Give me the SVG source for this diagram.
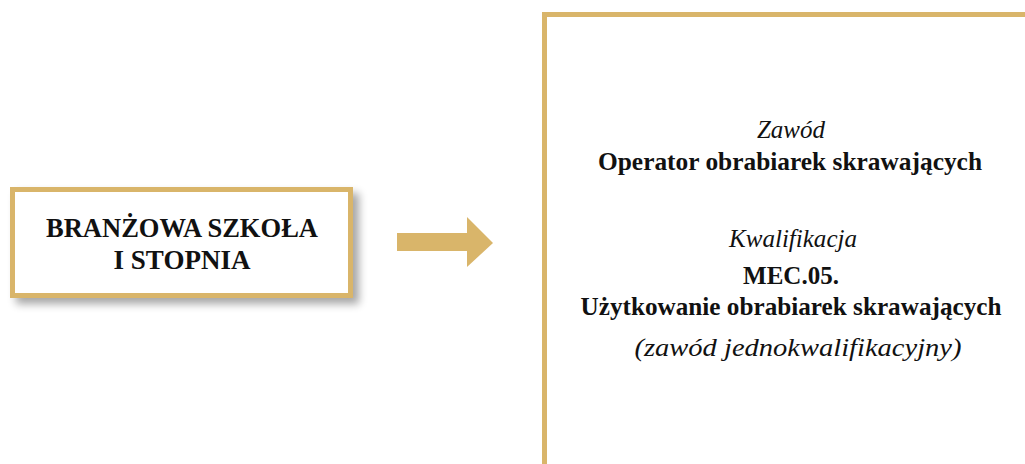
<svg xmlns="http://www.w3.org/2000/svg" width="1025" height="464" viewBox="0 0 1025 464">
<style>
.t{font-family:"Liberation Serif","Times New Roman",serif;fill:#111;text-anchor:middle}
.b{font-weight:bold}
.i{font-style:italic}
.gold{fill:#D9B56A}
</style>
<defs>
<filter id="sh" x="-10%" y="-20%" width="130%" height="160%">
<feGaussianBlur in="SourceAlpha" stdDeviation="4"/>
<feOffset dx="6" dy="6"/>
<feComponentTransfer><feFuncA type="linear" slope="0.35"/></feComponentTransfer>
<feMerge><feMergeNode/><feMergeNode in="SourceGraphic"/></feMerge>
</filter>
</defs>
<rect width="1025" height="464" fill="#fff"/>
<g id="node-school">
<rect x="12.5" y="189.5" width="338" height="106" fill="#fff" stroke="#D9B56A" stroke-width="5" filter="url(#sh)"/>
<text class="t b" x="182" y="237" font-size="27" textLength="272" lengthAdjust="spacingAndGlyphs">BRANŻOWA SZKOŁA</text>
<text class="t b" x="182" y="269" font-size="27">I STOPNIA</text>
</g>
<g id="connectors">
<polygon class="gold" points="397,233 467,233 467,217 493,243 467,267 467,251 397,251"/>
</g>
<g id="node-profession">
<rect x="544.5" y="14.5" width="500" height="480" fill="#fff" stroke="#D9B56A" stroke-width="5"/>
<text class="t i" x="791" y="138" font-size="25">Zawód</text>
<text class="t b" x="790" y="170" font-size="25" textLength="384" lengthAdjust="spacingAndGlyphs">Operator obrabiarek skrawających</text>
<text class="t i" x="793" y="247" font-size="25" textLength="128" lengthAdjust="spacingAndGlyphs">Kwalifikacja</text>
<text class="t b" x="791" y="284" font-size="25">MEC.05.</text>
<text class="t b" x="791" y="315" font-size="25" textLength="421" lengthAdjust="spacingAndGlyphs">Użytkowanie obrabiarek skrawających</text>
<text class="t i" x="798" y="356" font-size="25" textLength="327" lengthAdjust="spacingAndGlyphs">(zawód jednokwalifikacyjny)</text>
</g>
</svg>
